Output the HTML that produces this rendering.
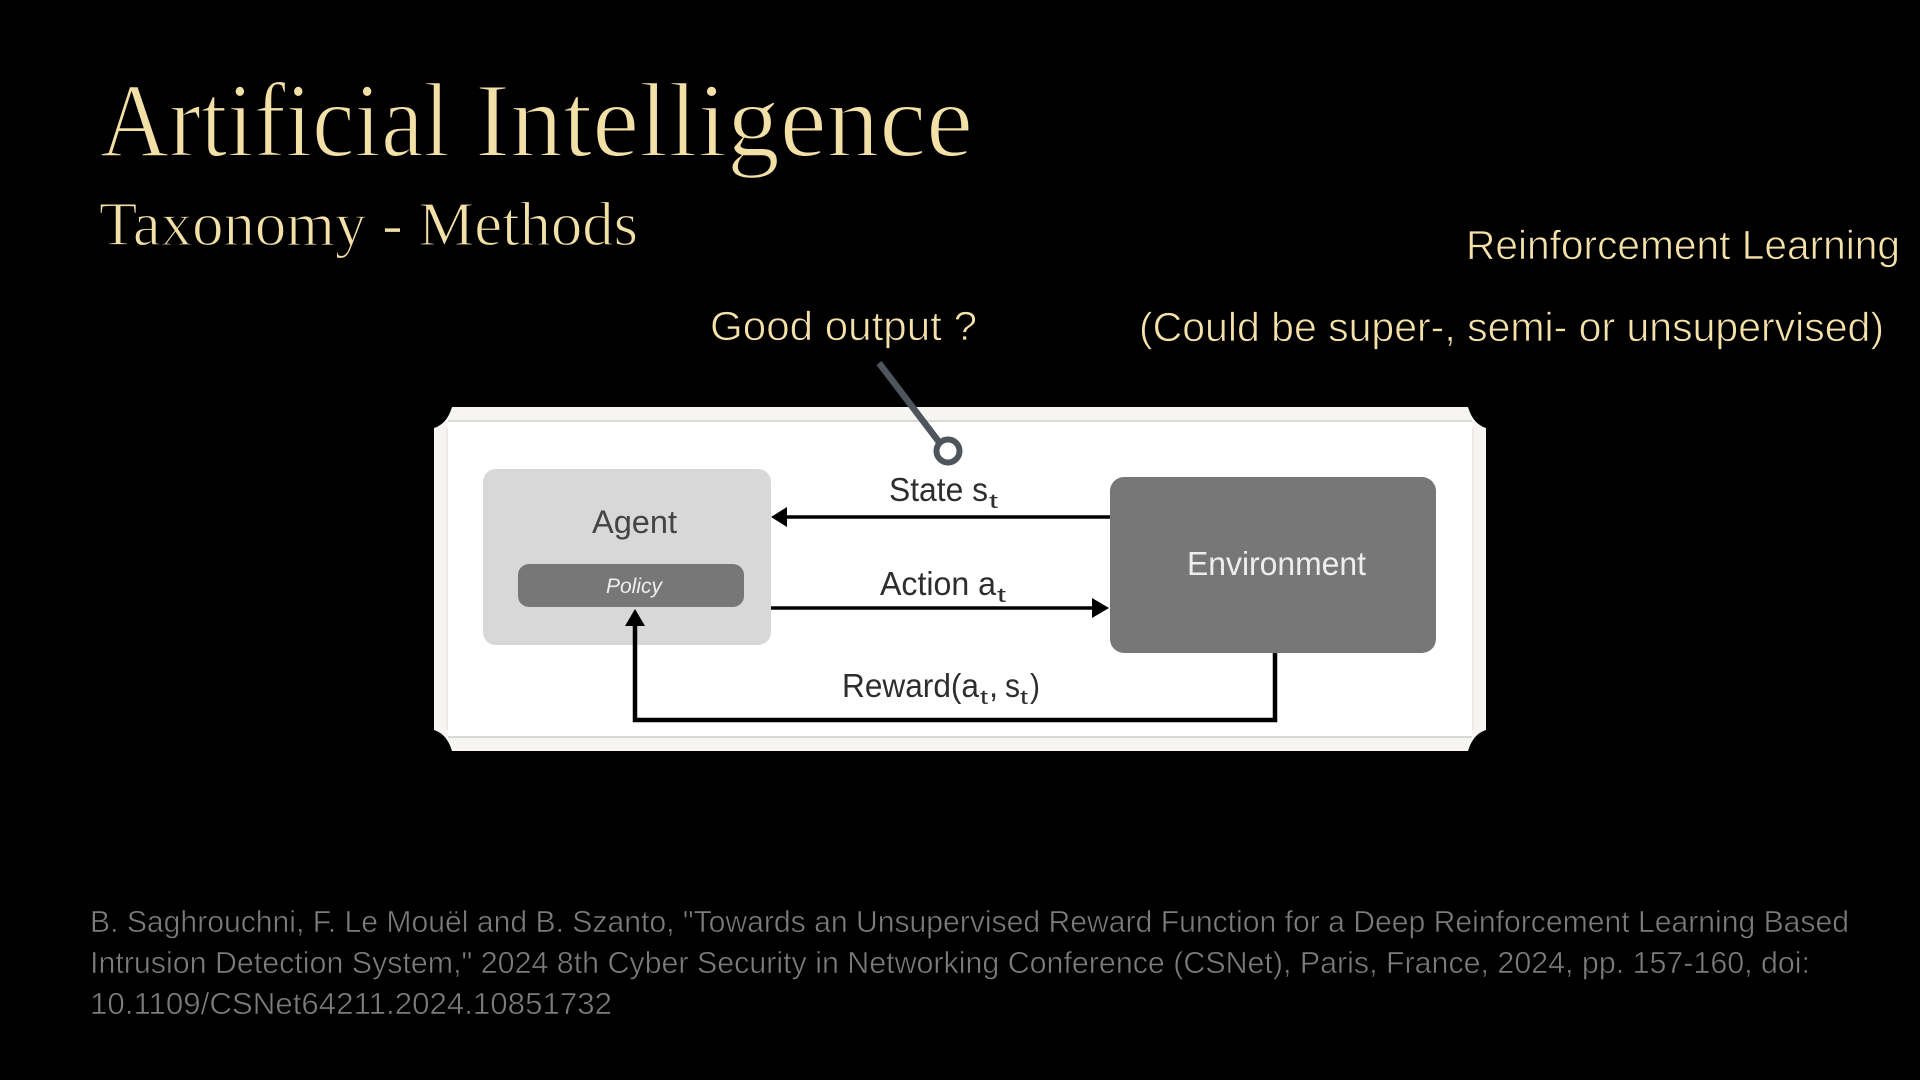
<!DOCTYPE html>
<html><head><meta charset="utf-8"><style>
html,body{margin:0;padding:0;background:#000;width:1920px;height:1080px;overflow:hidden}
svg{display:block}
text{white-space:pre}
.s{font-family:"Liberation Serif",serif;fill:#f3e0a6;stroke:#000}
.y{font-family:"Liberation Sans",sans-serif;fill:#f6e2a8;stroke:#000;stroke-width:.8}
.r{font-family:"Liberation Sans",sans-serif;fill:#7c7c7c;font-size:31px;stroke:#000;stroke-width:.6}
.d{font-family:"Liberation Sans",sans-serif;fill:#2e2e2e}
</style></head><body>
<svg width="1920" height="1080" viewBox="0 0 1920 1080" xmlns="http://www.w3.org/2000/svg">
<rect width="1920" height="1080" fill="#000"/>
<text class="s" x="100" y="156" font-size="106" stroke-width="1.9" textLength="350" lengthAdjust="spacingAndGlyphs">Artificial</text>
<text class="s" x="475" y="156" font-size="106" stroke-width="1.9" textLength="498" lengthAdjust="spacingAndGlyphs">Intelligence</text>
<text class="s" x="99" y="245" font-size="62" stroke-width="1.2" textLength="539" lengthAdjust="spacingAndGlyphs">Taxonomy - Methods</text>
<text class="y" x="1466" y="259" font-size="41" textLength="434" lengthAdjust="spacingAndGlyphs">Reinforcement Learning</text>
<text class="y" x="1139" y="341" font-size="41" textLength="745" lengthAdjust="spacingAndGlyphs">(Could be super-, semi- or unsupervised)</text>
<text class="y" x="710" y="340" font-size="41" textLength="267" lengthAdjust="spacingAndGlyphs">Good output ?</text>

<path d="M452 407H1468Q1473 424 1486 428V730Q1473 734 1468 751H452Q447 734 434 730V428Q447 424 452 407Z" fill="#f6f5f2"/>
<rect x="448" y="421" width="1024" height="316" fill="#fff"/>
<path d="M448 421H1472M448 737H1472" stroke="#d9d9d5" stroke-width="2" fill="none"/>
<path d="M447 428V730M1473 428V730" stroke="#e8e8e4" stroke-width="1.5" fill="none"/>

<rect x="483" y="469" width="288" height="176" rx="13" fill="#d8d8d8"/>
<rect x="518" y="564" width="226" height="43" rx="11" fill="#777"/>
<rect x="1110" y="477" width="326" height="176" rx="14" fill="#777"/>

<path d="M787 517H1110" stroke="#000" stroke-width="3.5"/>
<path d="M771 517L787 507V527Z" fill="#000"/>
<path d="M771 608H1093" stroke="#000" stroke-width="3.5"/>
<path d="M1109 608L1092 598V618Z" fill="#000"/>
<path d="M1275 653V720H635V625" stroke="#000" stroke-width="4.5" fill="none"/>
<path d="M635 609L645 626H625Z" fill="#000"/>

<path d="M879 363L939 442" stroke="#4f555c" stroke-width="6.5" fill="none"/>
<circle cx="948" cy="451" r="11.5" fill="#fff" stroke="#4f555c" stroke-width="6"/>

<text class="d" x="592" y="533" font-size="32" style="fill:#444" textLength="85" lengthAdjust="spacingAndGlyphs">Agent</text>
<text class="d" x="606" y="593" font-size="21" font-style="italic" style="fill:#eee" textLength="56" lengthAdjust="spacingAndGlyphs">Policy</text>
<text class="d" x="1187" y="575" font-size="33" style="fill:#eee" textLength="179" lengthAdjust="spacingAndGlyphs">Environment</text>

<text class="d" x="889" y="501" font-size="33" textLength="99" lengthAdjust="spacingAndGlyphs">State s</text>
<text class="d" x="989" y="508" font-size="20" textLength="9" lengthAdjust="spacingAndGlyphs">t</text>
<text class="d" x="880" y="595" font-size="33" textLength="116" lengthAdjust="spacingAndGlyphs">Action a</text>
<text class="d" x="997" y="602" font-size="20" textLength="9" lengthAdjust="spacingAndGlyphs">t</text>
<text class="d" x="842" y="697" font-size="33" textLength="137" lengthAdjust="spacingAndGlyphs">Reward(a</text>
<text class="d" x="980" y="704" font-size="20" textLength="8" lengthAdjust="spacingAndGlyphs">t</text>
<text class="d" x="989" y="697" font-size="33">,</text>
<text class="d" x="1005" y="697" font-size="33" textLength="15" lengthAdjust="spacingAndGlyphs">s</text>
<text class="d" x="1020" y="704" font-size="20" textLength="8" lengthAdjust="spacingAndGlyphs">t</text>
<text class="d" x="1030" y="697" font-size="33" textLength="10" lengthAdjust="spacingAndGlyphs">)</text>

<text class="r" x="90" y="932" textLength="1759" lengthAdjust="spacingAndGlyphs">B. Saghrouchni, F. Le Mouël and B. Szanto, "Towards an Unsupervised Reward Function for a Deep Reinforcement Learning Based</text>
<text class="r" x="90" y="973" textLength="1720" lengthAdjust="spacingAndGlyphs">Intrusion Detection System," 2024 8th Cyber Security in Networking Conference (CSNet), Paris, France, 2024, pp. 157-160, doi:</text>
<text class="r" x="90" y="1014" textLength="522" lengthAdjust="spacingAndGlyphs">10.1109/CSNet64211.2024.10851732</text>
</svg>
</body></html>
